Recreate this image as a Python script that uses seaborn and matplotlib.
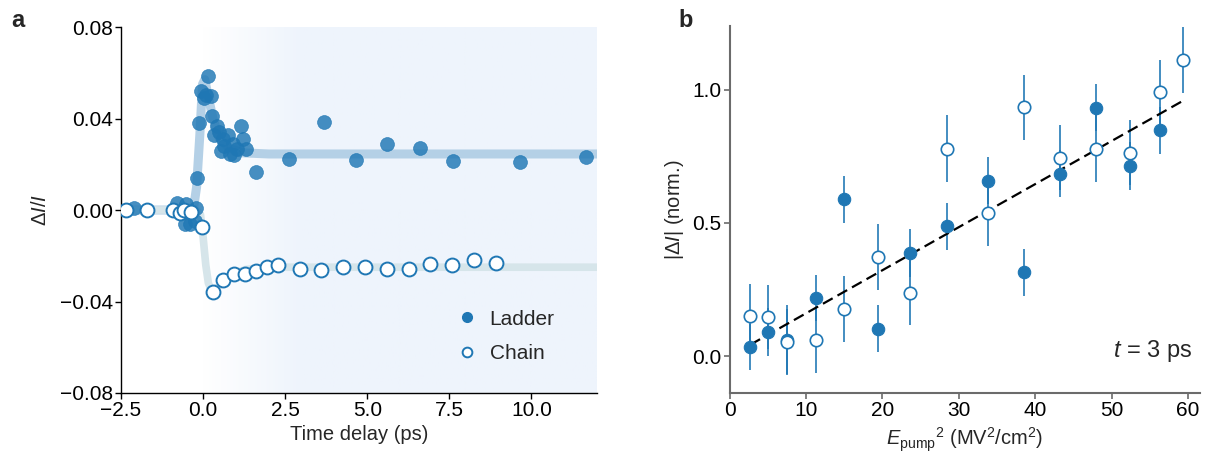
import numpy as np
import pandas as pd
import matplotlib
matplotlib.use("Agg")
import matplotlib.pyplot as plt
from matplotlib.lines import Line2D
from matplotlib.colors import LinearSegmentedColormap
import seaborn as sns

# ---------------- data: panel a ----------------
ladder_t = [-2.12, -0.79, -0.52, -0.55, -0.41, -0.26, -0.22, -0.18, -0.12, -0.07, 0.04, 0.10, 0.25,
            0.14, 0.28, 0.41, 0.32, 0.48, 0.55, 0.60, 0.77, 0.65, 0.82, 0.95, 0.90, 1.16, 1.22, 1.31,
            1.03, 1.62, 2.62, 3.68, 4.67, 5.60, 6.60, 7.60, 9.66, 11.65]
ladder_y = [0.001, 0.003, 0.0025, -0.006, -0.006, -0.005, 0.0007, 0.014, 0.038, 0.052, 0.049, 0.0505, 0.0499,
            0.0588, 0.041, 0.0367, 0.033, 0.034, 0.0256, 0.031, 0.033, 0.0278, 0.0245, 0.024, 0.029, 0.0367, 0.031, 0.0267,
            0.0267, 0.0166, 0.0223, 0.0385, 0.0217, 0.0287, 0.0271, 0.0214, 0.0208, 0.0233]
chain_t = [-2.36, -1.70, -0.92, -0.72, -0.58, -0.37, -0.03, 0.29, 0.62, 0.95, 1.28, 1.62, 1.95, 2.28,
           2.94, 3.60, 4.27, 4.93, 5.60, 6.26, 6.92, 7.58, 8.25, 8.92]
chain_y = [0.0, 0.0, 0.0, -0.0015, 0.0, -0.001, -0.0076, -0.036, -0.0306, -0.0278, -0.0278, -0.0266, -0.0248, -0.0242,
           -0.0259, -0.0264, -0.0248, -0.0248, -0.0256, -0.0258, -0.0237, -0.024, -0.022, -0.0232]

# fit curves (knots)
fit_ladder_t = [-2.5, -0.30, -0.20, -0.10, -0.02, 0.05, 0.15, 0.30, 0.50, 0.80, 1.20, 2.00, 12.0]
fit_ladder_y = [0.0, 0.0, 0.010, 0.033, 0.055, 0.057, 0.050, 0.040, 0.031, 0.027, 0.025, 0.0245, 0.0245]
fit_chain_t = [-2.5, -0.20, -0.08, 0.0, 0.08, 0.16, 0.25, 0.40, 0.60, 0.90, 1.30, 2.00, 12.0]
fit_chain_y = [0.0, 0.0, -0.002, -0.012, -0.024, -0.032, -0.035, -0.0345, -0.031, -0.028, -0.026, -0.025, -0.025]

# ---------------- data: panel b ----------------
lad_E2 = [2.7, 5.06, 7.5, 11.27, 14.98, 19.4, 23.6, 28.5, 33.8, 38.56, 43.24, 47.9, 52.4, 56.35]
lad_val = [0.035, 0.092, 0.063, 0.219, 0.589, 0.104, 0.389, 0.487, 0.659, 0.316, 0.685, 0.931, 0.712, 0.848]
lad_err = [0.087, 0.09, 0.13, 0.087, 0.088, 0.089, 0.09, 0.088, 0.088, 0.088, 0.089, 0.088, 0.09, 0.088]
chn_E2 = [2.7, 5.06, 7.5, 11.27, 14.98, 19.4, 23.6, 28.5, 33.8, 38.56, 43.24, 47.9, 52.4, 56.35, 59.3]
chn_val = [0.153, 0.146, 0.054, 0.060, 0.178, 0.373, 0.239, 0.779, 0.539, 0.934, 0.744, 0.779, 0.764, 0.990, 1.111]
chn_err = [0.12, 0.12, 0.124, 0.122, 0.124, 0.125, 0.123, 0.124, 0.124, 0.122, 0.122, 0.124, 0.123, 0.122, 0.123]
fit_slope = 0.01613
fit_intercept = 0.0005
fit_range = [2.7, 59.3]

# ---------------- style ----------------
sns.set_theme(style="ticks")
plt.rcParams['font.family'] = ['Liberation Sans', 'DejaVu Sans']
plt.rcParams['mathtext.fontset'] = 'custom'
plt.rcParams['mathtext.rm'] = 'Liberation Sans'
plt.rcParams['mathtext.it'] = 'Liberation Sans:italic'
plt.rcParams['mathtext.bf'] = 'Liberation Sans:bold'
plt.rcParams['axes.unicode_minus'] = True

BLUE = '#1f77b4'
fs_tick = 15
fs_lab = 14.5

fig = plt.figure(figsize=(12.07, 4.59), dpi=100)
axa = fig.add_axes([0.1003, 0.1438, 0.3944, 0.7973])
axb = fig.add_axes([0.6046, 0.1438, 0.3897, 0.7995])

# ---- panel a ----
ylim_a = (-0.08, 0.08)
cmap = LinearSegmentedColormap.from_list('bg', ['#ffffff', '#eef4fc'])
grad = np.clip(np.linspace(0, 12, 400) / 3.0, 0, 1)[None, :]
axa.imshow(grad, cmap=cmap, vmin=0, vmax=1, aspect='auto',
           extent=[0, 12, ylim_a[0], ylim_a[1]], zorder=0, interpolation='bilinear')

sns.lineplot(x=fit_ladder_t, y=fit_ladder_y, ax=axa, color='#b4d0e6', lw=6.5,
             solid_capstyle='round', solid_joinstyle='round', zorder=1, sort=False)
sns.lineplot(x=fit_chain_t, y=fit_chain_y, ax=axa, color='#d6e5ea', lw=5.5,
             solid_capstyle='round', solid_joinstyle='round', zorder=1, sort=False)

sns.scatterplot(x=ladder_t, y=ladder_y, ax=axa, s=100, color=BLUE, alpha=0.82,
                edgecolor=BLUE, linewidth=0.5, zorder=3)
sns.scatterplot(x=chain_t, y=chain_y, ax=axa, s=100, color='white',
                edgecolor=BLUE, linewidth=1.4, zorder=4)

axa.set_xlim(-2.5, 12)
axa.set_ylim(*ylim_a)
axa.set_xticks([-2.5, 0.0, 2.5, 5.0, 7.5, 10.0])
axa.set_yticks([-0.08, -0.04, 0.0, 0.04, 0.08])
axa.set_xlabel('Time delay (ps)', fontsize=fs_lab, labelpad=4)
axa.set_ylabel(r'$\Delta I/I$', fontsize=fs_lab)
axa.yaxis.set_label_coords(-0.15, 0.5)
for s in ['top', 'right']:
    axa.spines[s].set_visible(False)
for s in ['left', 'bottom']:
    axa.spines[s].set_color('black')
    axa.spines[s].set_linewidth(1.0)
axa.tick_params(labelsize=fs_tick, length=4, width=1, colors='black', pad=1.5)

handles = [Line2D([], [], ls='none', marker='o', ms=7, color=BLUE, mec=BLUE),
           Line2D([], [], ls='none', marker='o', ms=7, mfc='white', mec=BLUE, mew=1.4)]
axa.legend(handles, ['Ladder', 'Chain'], loc='lower right', bbox_to_anchor=(0.95, 0.03),
           frameon=False, fontsize=fs_tick, handletextpad=0.5, labelspacing=0.75, handlelength=1.2)

# ---- panel b ----
axb.errorbar(lad_E2, lad_val, yerr=lad_err, fmt='none', ecolor=BLUE, elinewidth=1.3, alpha=0.9, zorder=2)
axb.errorbar(chn_E2, chn_val, yerr=chn_err, fmt='none', ecolor=BLUE, elinewidth=1.3, alpha=0.9, zorder=2)
fx = np.array(fit_range)
sns.lineplot(x=fx, y=fit_slope * fx + fit_intercept, ax=axb, color='black', lw=1.6,
             linestyle=(0, (5, 2.5)), zorder=3)
sns.scatterplot(x=lad_E2, y=lad_val, ax=axb, s=80, color=BLUE, edgecolor=BLUE, linewidth=0.8, zorder=4)
sns.scatterplot(x=chn_E2, y=chn_val, ax=axb, s=80, color='white', edgecolor=BLUE, linewidth=1.2, zorder=5)

axb.set_xlim(0, 61.6)
axb.set_ylim(-0.137, 1.238)
axb.set_xticks([0, 10, 20, 30, 40, 50, 60])
axb.set_yticks([0.0, 0.5, 1.0])
axb.set_xlabel(r'$E_{\rm pump}{}^{2}$ (MV$^2$/cm$^2$)', fontsize=fs_lab, labelpad=4)
axb.set_ylabel(r'$|\Delta I|$ (norm.)', fontsize=fs_lab)
axb.yaxis.set_label_coords(-0.093, 0.5)
for s in ['top', 'right']:
    axb.spines[s].set_visible(False)
for s in ['left', 'bottom']:
    axb.spines[s].set_color('#6b6b6b')
    axb.spines[s].set_linewidth(1.5)
axb.tick_params(labelsize=fs_tick, length=4, width=1.2, color='#6b6b6b', labelcolor='black', pad=2)
axb.text(60.5, 0.02, r'$t$ = 3 ps', fontsize=17, ha='right', va='center')

fig.text(0.009, 0.98, 'a', fontsize=17, fontweight='bold', va='top')
fig.text(0.562, 0.98, 'b', fontsize=17, fontweight='bold', va='top')

fig.savefig('out.png', dpi=100)
